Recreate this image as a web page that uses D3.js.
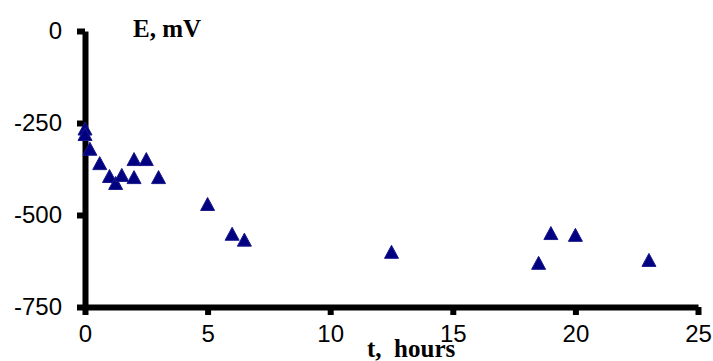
<!DOCTYPE html>
<html>
<head>
<meta charset="utf-8">
<script src="https://cdn.jsdelivr.net/npm/d3@7"></script>
<style>
  body { margin: 0; background: #fff; }
  svg { display: block; }
  .axis .domain, .axis .tick line { stroke: #000 !important; stroke-width: 6px !important; }
</style>
</head>
<body>
<svg id="chart"></svg>
<script>
// time (hours) and potential (mV)
var hours = [0, 0, 0.2, 0.6, 1.0, 1.25, 1.5, 2.0, 2.0, 2.5, 3.0, 5.0, 6.0, 6.5, 12.5, 18.5, 19.0, 20.0, 23.0];
var potential = [-265, -280, -320, -359, -394, -413, -391, -348, -397, -348, -397, -470, -551, -567, -600, -630, -549, -554, -622];
var xTicks = [0, 5, 10, 15, 20, 25];
var yTicks = [0, -250, -500, -750];

var width = 713, height = 361;
var svg = d3.select("#chart")
            .attr("width", width)
            .attr("height", height);

var x = d3.scaleLinear()
          .domain([0, 25])
          .range([85, 698]);

var y = d3.scaleLinear()
          .domain([-750, 0])
          .range([307, 31]);

var points = hours.map((h, i) => ({ t: h, e: potential[i] }));

// plain hyphen for negatives, like the original
var fmt = d => String(d);

var xAxis = d3.axisBottom(x)
              .tickValues(xTicks)
              .tickFormat(fmt)
              .tickSize(8)
              .tickPadding(10)
              .tickSizeOuter(0);

var yAxis = d3.axisLeft(y)
              .tickValues(yTicks)
              .tickFormat(fmt)
              .tickSize(8)
              .tickPadding(15)
              .tickSizeOuter(0);

var gx = svg.append("g")
    .classed("axis", true)
    .attr("transform", "translate(0," + y(-750) + ")")
    .call(xAxis);

var gy = svg.append("g")
    .classed("axis", true)
    .attr("transform", "translate(" + x(0) + ",0)")
    .call(yAxis);

[gx, gy].forEach(g => {
  g.selectAll(".tick text")
    .style("fill", "#000")
    .style("font-family", "'Liberation Sans', Arial, sans-serif")
    .style("font-size", "24px");
});

// triangle marker centred on its bounding box
var triangle = {
  draw: function(ctx, size) {
    var w = 7, h = 6.5;
    ctx.moveTo(0, -h);
    ctx.lineTo(w, h);
    ctx.lineTo(-w, h);
    ctx.closePath();
  }
};

svg.append("g")
  .selectAll("path")
  .data(points)
  .enter()
  .append("path")
    .attr("d", d3.symbol(triangle))
    .attr("transform", d => "translate(" + x(d.t) + "," + y(d.e) + ")")
    .attr("fill", "#000080")
    .attr("stroke", "#1a1a8c")
    .attr("stroke-width", 1);

svg.append("text")
    .attr("x", 133)
    .attr("y", 37)
    .style("font-family", "'Liberation Serif', 'Times New Roman', serif")
    .style("font-weight", "bold")
    .style("font-size", "25px")
    .text("E, mV");

svg.append("text")
    .attr("x", 367)
    .attr("y", 357)
    .style("white-space", "pre")
    .style("font-family", "'Liberation Serif', 'Times New Roman', serif")
    .style("font-weight", "bold")
    .style("font-size", "25px")
    .text("t,  hours");
</script>
</body>
</html>
